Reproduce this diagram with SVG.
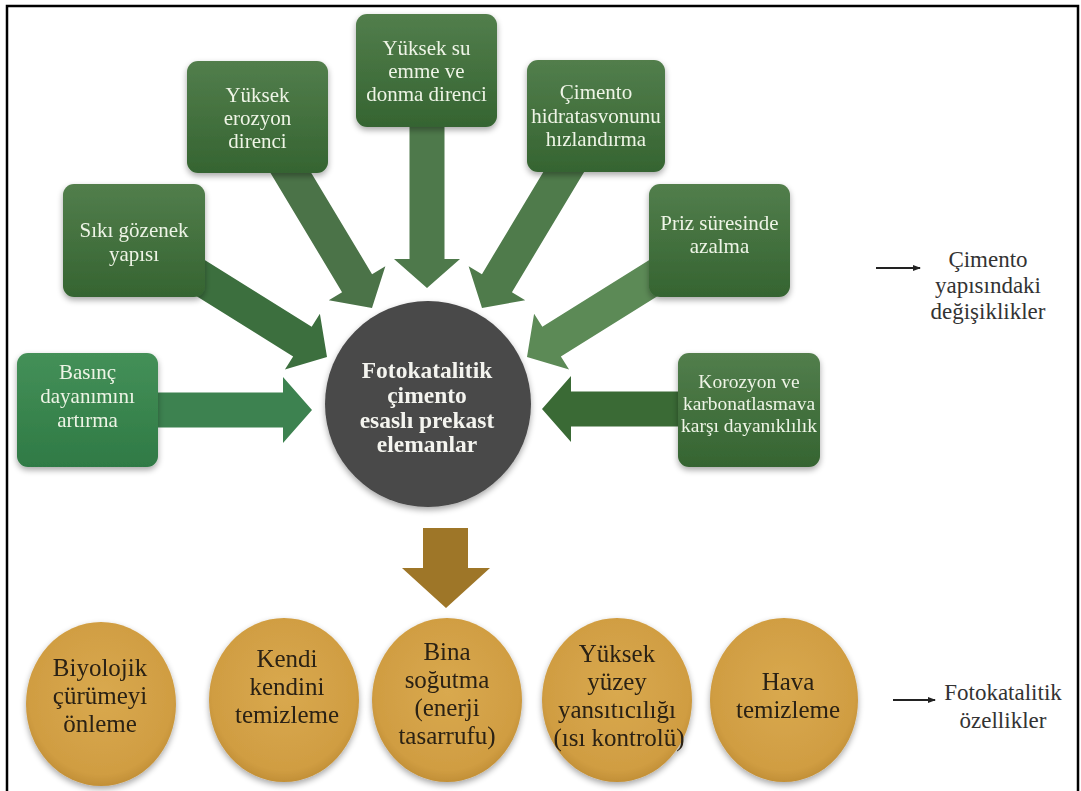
<svg xmlns="http://www.w3.org/2000/svg" width="1081" height="791" viewBox="0 0 1081 791">
  <defs>
    <style>
      text { font-family: "Liberation Serif", "DejaVu Serif", "Noto Serif", serif; }
      .box-text { font-size: 21px; fill: #eef4e6; text-anchor: middle; }
      .hub-text { font-size: 23.5px; font-weight: bold; fill: #f4f4ef; text-anchor: middle; }
      .oval-text { font-size: 25px; fill: #2a2012; text-anchor: middle; }
      .legend-text { font-size: 23px; fill: #333333; text-anchor: middle; }
      .legend-line { stroke: #222222; stroke-width: 2; fill: none; }
    </style>
    <linearGradient id="boxFill" x1="0" y1="0" x2="0" y2="1">
      <stop offset="0" stop-color="#527e4c"/>
      <stop offset="1" stop-color="#356431"/>
    </linearGradient>
    <linearGradient id="boxFillLight" x1="0" y1="0" x2="0" y2="1">
      <stop offset="0" stop-color="#449058"/>
      <stop offset="1" stop-color="#2f7a45"/>
    </linearGradient>
    <radialGradient id="ovalFill" cx="0.5" cy="0.45" r="0.6">
      <stop offset="0" stop-color="#d9a94f"/>
      <stop offset="0.8" stop-color="#d09d42"/>
      <stop offset="1" stop-color="#b8862f"/>
    </radialGradient>
    <filter id="shadow" x="-20%" y="-20%" width="140%" height="150%">
      <feGaussianBlur in="SourceAlpha" stdDeviation="3"/>
      <feOffset dx="0" dy="3" result="b"/>
      <feComponentTransfer><feFuncA type="linear" slope="0.35"/></feComponentTransfer>
      <feMerge><feMergeNode/><feMergeNode in="SourceGraphic"/></feMerge>
    </filter>
    <marker id="legendHead" markerWidth="8" markerHeight="8" refX="7" refY="4" orient="auto" markerUnits="userSpaceOnUse">
      <path d="M0,1 L8,4 L0,7 Z" fill="#222222"/>
    </marker>
  </defs>

  <!-- page frame -->
  <rect x="7" y="6" width="1071" height="820" fill="#ffffff" stroke="#000000" stroke-width="2.5"/>

  <!-- block arrows feeding the hub, each drawn with its tip at the local origin -->
  <g id="connectors">
    <path id="arrow-basinc" transform="translate(312,410)" fill="#3d8250" d="M-160,-17.5 L-29,-17.5 L-29,-33 L0,0 L-29,33 L-29,17.5 L-160,17.5 Z"/>
    <path id="arrow-gozenek" transform="translate(327,357) rotate(32)" fill="#3c6f3e" d="M-165,-17.5 L-29,-17.5 L-29,-33 L0,0 L-29,33 L-29,17.5 L-165,17.5 Z"/>
    <path id="arrow-erozyon" transform="translate(372,308) rotate(59)" fill="#4b7348" d="M-170,-17.5 L-29,-17.5 L-29,-33 L0,0 L-29,33 L-29,17.5 L-170,17.5 Z"/>
    <path id="arrow-su" transform="translate(427,288) rotate(90)" fill="#4e794b" d="M-170,-17.5 L-29,-17.5 L-29,-33 L0,0 L-29,33 L-29,17.5 L-170,17.5 Z"/>
    <path id="arrow-hidratasyon" transform="translate(482,308) rotate(121)" fill="#4f7b4b" d="M-170,-17.5 L-29,-17.5 L-29,-33 L0,0 L-29,33 L-29,17.5 L-170,17.5 Z"/>
    <path id="arrow-priz" transform="translate(527,357) rotate(148)" fill="#5c8a56" d="M-165,-17.5 L-29,-17.5 L-29,-33 L0,0 L-29,33 L-29,17.5 L-165,17.5 Z"/>
    <path id="arrow-korozyon" transform="translate(542,409) rotate(180)" fill="#3a6a35" d="M-140,-17.5 L-29,-17.5 L-29,-33 L0,0 L-29,33 L-29,17.5 L-140,17.5 Z"/>
    <!-- hub to properties -->
    <path id="arrow-ozellikler" fill="#9e7628" d="M423,528 L468,528 L468,568 L490,568 L446,608 L402,568 L423,568 Z"/>
  </g>

  <!-- cement structure changes -->
  <g id="box-basinc" filter="url(#shadow)">
    <rect x="17" y="353" width="141" height="114" rx="11" fill="url(#boxFillLight)"/>
    <text class="box-text"><tspan x="87.5" y="379">Basınç</tspan><tspan x="87.5" y="403">dayanımını</tspan><tspan x="87.5" y="427">artırma</tspan></text>
  </g>
  <g id="box-gozenek" filter="url(#shadow)">
    <rect x="63" y="184" width="142" height="113" rx="11" fill="url(#boxFill)"/>
    <text class="box-text"><tspan x="134" y="237">Sıkı gözenek</tspan><tspan x="134" y="261">yapısı</tspan></text>
  </g>
  <g id="box-erozyon" filter="url(#shadow)">
    <rect x="187" y="61" width="141" height="112" rx="11" fill="url(#boxFill)"/>
    <text class="box-text"><tspan x="257.5" y="102">Yüksek</tspan><tspan x="257.5" y="125">erozyon</tspan><tspan x="257.5" y="148">direnci</tspan></text>
  </g>
  <g id="box-su" filter="url(#shadow)">
    <rect x="356" y="14" width="141" height="113" rx="11" fill="url(#boxFill)"/>
    <text class="box-text"><tspan x="426.5" y="55">Yüksek su</tspan><tspan x="426.5" y="78">emme ve</tspan><tspan x="426.5" y="101">donma direnci</tspan></text>
  </g>
  <g id="box-hidratasyon" filter="url(#shadow)">
    <rect x="527" y="60" width="138" height="112" rx="11" fill="url(#boxFill)"/>
    <text class="box-text"><tspan x="596" y="99">Çimento</tspan><tspan x="596" y="123">hidratasvonunu</tspan><tspan x="596" y="146">hızlandırma</tspan></text>
  </g>
  <g id="box-priz" filter="url(#shadow)">
    <rect x="649" y="184" width="141" height="113" rx="11" fill="url(#boxFill)"/>
    <text class="box-text"><tspan x="719.5" y="230">Priz süresinde</tspan><tspan x="719.5" y="253">azalma</tspan></text>
  </g>
  <g id="box-korozyon" filter="url(#shadow)">
    <rect x="678" y="353" width="142" height="114" rx="11" fill="url(#boxFill)"/>
    <text class="box-text" style="font-size:19.5px"><tspan x="749" y="388">Korozyon ve</tspan><tspan x="749" y="410">karbonatlasmava</tspan><tspan x="749" y="432">karşı dayanıklılık</tspan></text>
  </g>

  <!-- central element -->
  <g id="hub" filter="url(#shadow)">
    <circle cx="428" cy="404" r="103" fill="#484848"/>
    <text class="hub-text"><tspan x="427" y="378">Fotokatalitik</tspan><tspan x="427" y="403">çimento</tspan><tspan x="427" y="428">esaslı prekast</tspan><tspan x="427" y="452">elemanlar</tspan></text>
  </g>

  <!-- photocatalytic properties -->
  <g id="oval-biyolojik" filter="url(#shadow)">
    <ellipse cx="101" cy="704" rx="75" ry="82" fill="url(#ovalFill)"/>
    <text class="oval-text"><tspan x="100" y="676">Biyolojik</tspan><tspan x="100" y="704">çürümeyi</tspan><tspan x="100" y="732">önleme</tspan></text>
  </g>
  <g id="oval-kendi" filter="url(#shadow)">
    <ellipse cx="284" cy="700" rx="75" ry="82" fill="url(#ovalFill)"/>
    <text class="oval-text"><tspan x="287" y="667">Kendi</tspan><tspan x="287" y="695">kendini</tspan><tspan x="287" y="723">temizleme</tspan></text>
  </g>
  <g id="oval-bina" filter="url(#shadow)">
    <ellipse cx="447" cy="700" rx="75" ry="82" fill="url(#ovalFill)"/>
    <text class="oval-text"><tspan x="447" y="660">Bina</tspan><tspan x="447" y="688">soğutma</tspan><tspan x="447" y="716">(enerji</tspan><tspan x="447" y="744">tasarrufu)</tspan></text>
  </g>
  <g id="oval-yuzey" filter="url(#shadow)">
    <ellipse cx="617" cy="700" rx="75" ry="82" fill="url(#ovalFill)"/>
    <text class="oval-text"><tspan x="617" y="662">Yüksek</tspan><tspan x="617" y="690">yüzey</tspan><tspan x="617" y="718">yansıtıcılığı</tspan><tspan x="619" y="746">(ısı kontrolü)</tspan></text>
  </g>
  <g id="oval-hava" filter="url(#shadow)">
    <ellipse cx="784" cy="700" rx="74" ry="82" fill="url(#ovalFill)"/>
    <text class="oval-text"><tspan x="788" y="690">Hava</tspan><tspan x="788" y="718">temizleme</tspan></text>
  </g>

  <!-- legend -->
  <g id="legend-cimento">
    <line class="legend-line" x1="876" y1="268" x2="920" y2="268" marker-end="url(#legendHead)"/>
    <text class="legend-text"><tspan x="988" y="267">Çimento</tspan><tspan x="988" y="293">yapısındaki</tspan><tspan x="988" y="319">değişiklikler</tspan></text>
  </g>
  <g id="legend-foto">
    <line class="legend-line" x1="893" y1="700" x2="935" y2="700" marker-end="url(#legendHead)"/>
    <text class="legend-text"><tspan x="1003" y="700">Fotokatalitik</tspan><tspan x="1003" y="728">özellikler</tspan></text>
  </g>
</svg>
